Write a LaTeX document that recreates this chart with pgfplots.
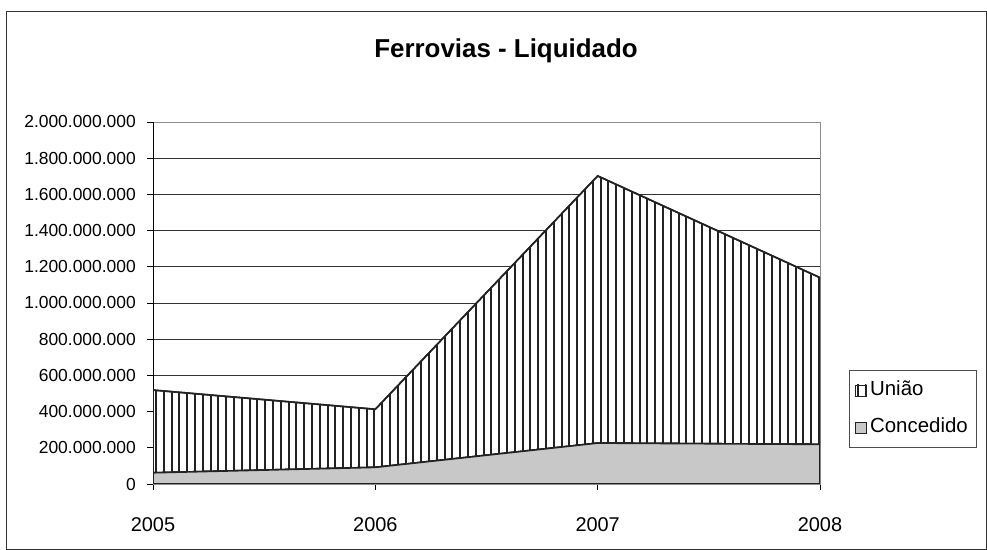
\documentclass[border=0pt]{standalone}
\usepackage{pgfplots}
\pgfplotsset{compat=1.18}
\usepackage{fontspec}
\setmainfont{Liberation Sans}
\usetikzlibrary{patterns.meta}
\definecolor{concgray}{HTML}{C8C8C8}
\definecolor{linedark}{HTML}{222222}
\definecolor{gridc}{HTML}{333333}
\begin{document}
\begin{tikzpicture}
\useasboundingbox (0,0) rectangle (987bp,550bp);
\draw[line width=1bp, color=black!80] (6.5bp,1bp) rectangle (986bp,538bp);
\node[anchor=base, font=\fontsize{26}{31}\selectfont\bfseries, inner sep=0pt] at (506bp,492bp) {Ferrovias - Liquidado};
\begin{axis}[
  at={(153bp,66bp)}, anchor=south west,
  scale only axis, width=667bp, height=362bp,
  xmin=2005, xmax=2008, ymin=0, ymax=2000000000,
  xtick={2005,2006,2007,2008},
  xticklabels={2005,2006,2007,2008},
  ytick={0,200000000,400000000,600000000,800000000,1000000000,1200000000,1400000000,1600000000,1800000000,2000000000},
  scaled y ticks=false,
  /pgf/number format/fixed, /pgf/number format/precision=0,
  /pgf/number format/1000 sep={.}, /pgf/number format/assume math mode=true,
  yticklabel style={font=\fontsize{17.5}{21}\selectfont, anchor=east, inner sep=0pt, xshift=-11bp},
  xticklabel style={font=\fontsize{20}{24}\selectfont, anchor=base, inner sep=0pt, yshift=-41bp},
  tick align=outside, major tick length=6bp,
  xtick pos=left, ytick pos=left,
  tick style={color=black, line width=0.8bp},
  ymajorgrids, grid style={color=gridc, line width=0.8bp},
  axis line style={color=black!45, line width=0.8bp},
  stack plots=y,
  area legend,
  reverse legend,
  legend cell align=left,
  legend style={at={(1.0435,0.315)}, anchor=north west, draw=black!70, line width=0.8bp,
    font=\fontsize{20.5}{24}\selectfont, inner xsep=5.5bp, inner ysep=9bp, row sep=15bp,
    nodes={inner xsep=3.5bp, inner ysep=2bp, text height=14bp, text depth=4bp}},
  legend image code/.code={\draw[#1, line width=0.7bp] (0bp,-5.5bp) rectangle (11bp,5.5bp);},
]
\addplot[fill=concgray, draw=linedark, line width=1.6bp] coordinates {(2005,62000000) (2006,92000000) (2007,226000000) (2008,219000000)} \closedcycle;
\addlegendentry{Concedido}
\addplot[fill=white, draw=linedark, line width=1.6bp,
  postaction={pattern={Lines[angle=90, distance=7.8bp, line width=2bp]}, pattern color=linedark}]
  coordinates {(2005,457000000) (2006,321000000) (2007,1476000000) (2008,921000000)} \closedcycle;
\addlegendentry{União}
\draw[color=black, line width=0.8bp] (rel axis cs:0,1) -- (rel axis cs:0,0) -- (rel axis cs:1,0);
\end{axis}
\end{tikzpicture}
\end{document}
